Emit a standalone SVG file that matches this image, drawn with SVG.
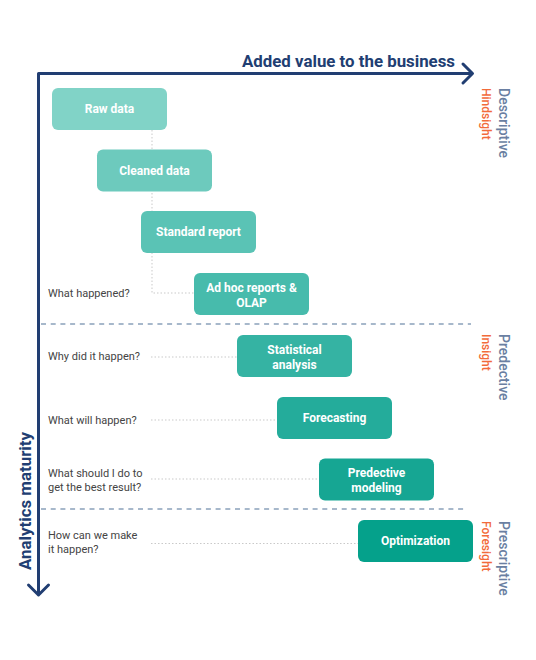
<svg xmlns="http://www.w3.org/2000/svg" width="536" height="660" viewBox="0 0 536 660">
<style>
.node rect{stroke:none}
.nt{font-family:Roboto,"Liberation Sans",sans-serif;font-size:12px;font-weight:700;fill:#ffffff;text-anchor:middle}
.q{font-family:Roboto,"Liberation Sans",sans-serif;font-size:11px;fill:#444444}
.dot{stroke:#c9c9c9;stroke-width:1;stroke-dasharray:1.5 2;fill:none}
.div{stroke:#8aa1bb;stroke-width:1.3;stroke-dasharray:5 4.7;fill:none}
.axis{stroke:#213e72;stroke-width:3;fill:none;stroke-linejoin:round;stroke-linecap:round}
.ax{font-family:Roboto,"Liberation Sans",sans-serif;font-size:17px;font-weight:700;fill:#213e72}
.cat{font-family:Roboto,"Liberation Sans",sans-serif;font-size:14px;font-weight:500;fill:#6a7fa2}
.sub{font-family:Roboto,"Liberation Sans",sans-serif;font-size:12px;font-weight:500;fill:#f26b3a}
</style>
<rect width="536" height="660" fill="#ffffff"/>
<g id="connectors">
  <path class="dot" d="M152,130 V293 H194"/>
  <path class="dot" d="M151,357 H237"/>
  <path class="dot" d="M151,420 H277"/>
  <path class="dot" d="M151,479 H319"/>
  <path class="dot" d="M151,543.5 H358"/>
</g>
<g id="dividers">
  <path class="div" d="M41,324 H471"/>
  <path class="div" d="M41,509 H467"/>
</g>
<g id="axes">
  <path class="axis" d="M471,73.5 H38.5 V594"/>
  <path class="axis" d="M463,64 L472.5,73.5 L463,83"/>
  <path class="axis" d="M28.5,585 L38.5,595 L48.5,585"/>
  <text class="ax" x="242" y="67" textLength="213" lengthAdjust="spacingAndGlyphs">Added value to the business</text>
  <text class="ax" transform="translate(31,570) rotate(-90)" textLength="138" lengthAdjust="spacingAndGlyphs">Analytics maturity</text>
</g>
<g id="labels">
  <text class="cat" transform="translate(498.5,88) rotate(90)">Descriptive</text>
  <text class="sub" transform="translate(481.5,88) rotate(90)">Hindsight</text>
  <text class="cat" transform="translate(498.5,334) rotate(90)">Predective</text>
  <text class="sub" transform="translate(481.5,334) rotate(90)">Insight</text>
  <text class="cat" transform="translate(498.5,521) rotate(90)">Prescriptive</text>
  <text class="sub" transform="translate(481.5,521) rotate(90)">Foresight</text>
</g>
<g id="questions">
  <text class="q" x="48" y="297">What happened?</text>
  <text class="q" x="48" y="360">Why did it happen?</text>
  <text class="q" x="48" y="423.5">What will happen?</text>
  <text class="q" x="48" y="477">What should I do to</text>
  <text class="q" x="48" y="491">get the best result?</text>
  <text class="q" x="48" y="539">How can we make</text>
  <text class="q" x="48" y="553">it happen?</text>
</g>
<g id="n-raw" class="node"><rect x="52" y="88" width="115" height="42" rx="6" fill="#81d3c7"/><text class="nt" x="109.5" y="113.2">Raw data</text></g>
<g id="n-cleaned" class="node"><rect x="97" y="149.5" width="115" height="42" rx="6" fill="#6dcabd"/><text class="nt" x="154.5" y="174.7">Cleaned data</text></g>
<g id="n-standard" class="node"><rect x="141" y="211" width="115" height="42" rx="6" fill="#5ac3b5"/><text class="nt" x="198.5" y="236.2">Standard report</text></g>
<g id="n-adhoc" class="node"><rect x="194" y="273" width="115" height="42" rx="6" fill="#47bbac"/><text class="nt" x="251.5" y="291.8">Ad hoc reports &amp;</text><text class="nt" x="251.5" y="306.8">OLAP</text></g>
<g id="n-stat" class="node"><rect x="237" y="335" width="115" height="42" rx="6" fill="#35b3a3"/><text class="nt" x="294.5" y="353.5">Statistical</text><text class="nt" x="294.5" y="368.5">analysis</text></g>
<g id="n-forecast" class="node"><rect x="277" y="397" width="115" height="42" rx="6" fill="#24ac9b"/><text class="nt" x="334.5" y="422.2">Forecasting</text></g>
<g id="n-predmodel" class="node"><rect x="319" y="458.5" width="115" height="42" rx="6" fill="#16a693"/><text class="nt" x="376.5" y="476.8">Predective</text><text class="nt" x="376.5" y="491.8">modeling</text></g>
<g id="n-optim" class="node"><rect x="358" y="520" width="115" height="42" rx="6" fill="#05a18b"/><text class="nt" x="415.5" y="545.2">Optimization</text></g>
</svg>
